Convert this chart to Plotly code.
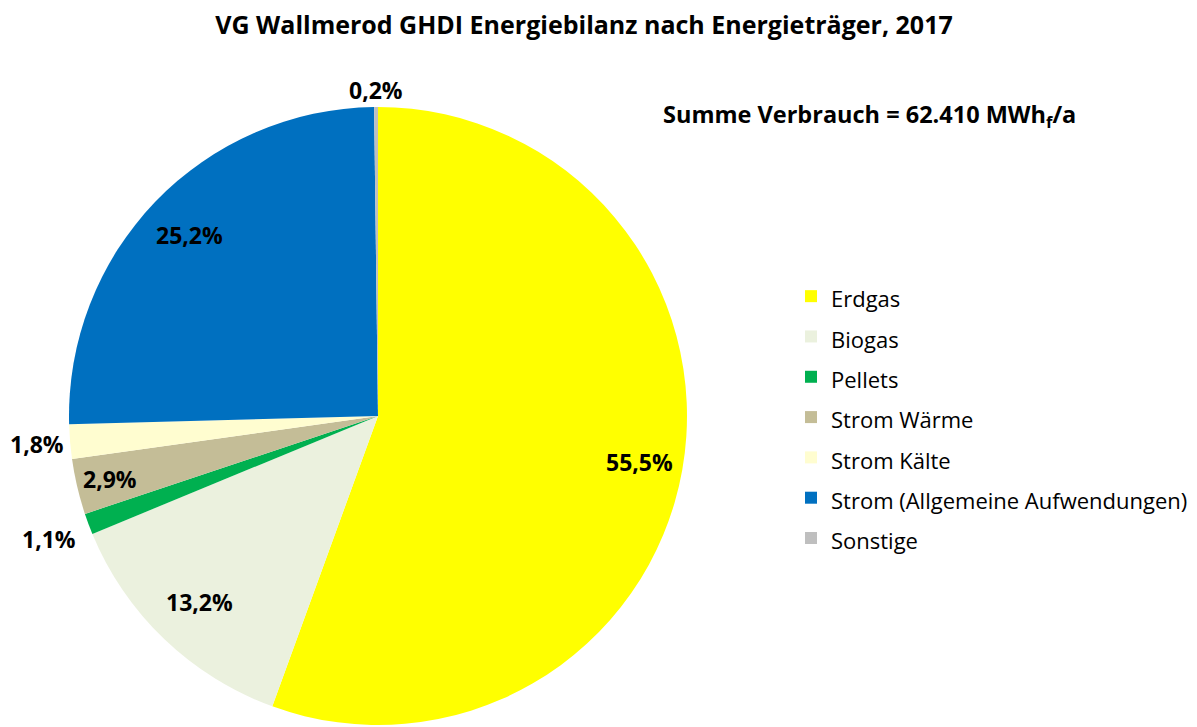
import math
import plotly.graph_objects as go

categories = ["Erdgas", "Biogas", "Pellets", "Strom Wärme", "Strom Kälte",
              "Strom (Allgemeine Aufwendungen)", "Sonstige"]
shares = [55.5, 13.2, 1.1, 2.9, 1.8, 25.2, 0.2]
colors = ["#FFFF00", "#EBF1DE", "#00B050", "#C4BD97", "#FFFDD0", "#0070C0", "#BFBFBF"]
label_radius = [0.86, 0.835, 1.135, 0.89, 1.107, 0.845, 1.055]

W, H = 1197, 727
OFF = 8  # page body margin of the html page
CX, CY, R = 378 - OFF, 416 - OFF, 309


def px2paper(x, y):
    return x / W, 1 - y / H


legend_labels = [f"<span style='font-size:22px'>{c}</span>" for c in categories]

fig = go.Figure(go.Pie(
    labels=legend_labels, values=shares, sort=False, direction="clockwise", rotation=0,
    marker=dict(colors=colors, line=dict(width=0)), textinfo="none",
    hovertext=categories, hoverinfo="text+percent",
    domain=dict(x=[(CX - R) / W, (CX + R) / W], y=[1 - (CY + R) / H, 1 - (CY - R) / H]),
))

annotations = []
total = sum(shares)
cum = 0.0
for v, k in zip(shares, label_radius):
    mid = (cum + v / 2) / total * 2 * math.pi
    cum += v
    x, y = px2paper(CX + k * R * math.sin(mid), CY - k * R * math.cos(mid))
    annotations.append(dict(
        x=x, y=y, xref="paper", yref="paper", showarrow=False,
        text=f"<b>{v:.1f}%</b>".replace(".", ","),
        font=dict(family="Open Sans", size=23, color="#000000"),
        xanchor="center", yanchor="middle"))

sx, sy = px2paper(869 - OFF, 116 - OFF)
annotations.append(dict(
    x=sx, y=sy, xref="paper", yref="paper", showarrow=False,
    text="<b>Summe Verbrauch = 62.410 MWh<sub>f</sub>/a</b>",
    font=dict(family="Open Sans", size=23.5, color="#000000"),
    xanchor="center", yanchor="middle"))

tx, ty = px2paper(584 - OFF, 25 - OFF)
lx, ly = px2paper(783, 263)

fig.update_layout(
    width=W, height=H, margin=dict(l=0, r=0, t=0, b=0),
    paper_bgcolor="white", plot_bgcolor="white",
    title=dict(text="<b>VG Wallmerod GHDI Energiebilanz nach Energieträger, 2017</b>",
               x=tx, xanchor="center", y=ty, yanchor="middle",
               font=dict(family="Open Sans", size=25, color="#000000")),
    legend=dict(x=lx, y=ly, xanchor="left", yanchor="top",
                font=dict(family="Open Sans", size=28.7, color="#000000"),
                bgcolor="rgba(0,0,0,0)"),
    annotations=annotations,
)

fig.write_html("out.html")
